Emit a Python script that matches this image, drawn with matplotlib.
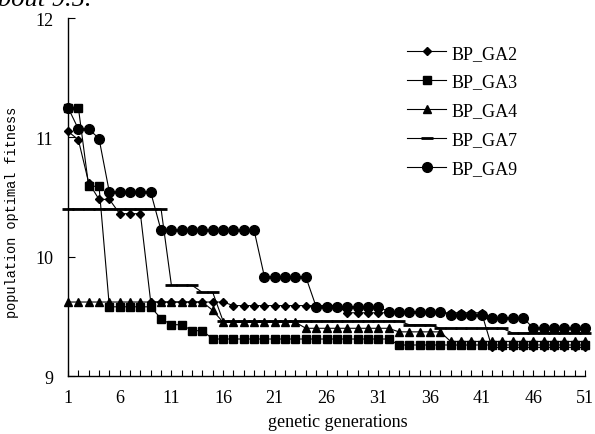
import matplotlib
matplotlib.use("Agg")
import matplotlib.pyplot as plt
from matplotlib.ticker import MultipleLocator, FixedLocator

# generations 1..51
gens = list(range(1, 52))
xtick_labels = [1, 6, 11, 16, 21, 26, 31, 36, 41, 46, 51]

ga2 = [11.05, 10.98, 10.62, 10.48, 10.48, 10.36, 10.36, 10.36, 9.62, 9.62,
       9.62, 9.62, 9.62, 9.62, 9.62, 9.62, 9.59, 9.59, 9.59, 9.59,
       9.59, 9.59, 9.59, 9.59, 9.59, 9.59, 9.59, 9.53, 9.53, 9.53,
       9.53, 9.53, 9.53, 9.53, 9.53, 9.53, 9.53, 9.53, 9.53, 9.53,
       9.53, 9.24, 9.24, 9.24, 9.24, 9.24, 9.24, 9.24, 9.24, 9.24,
       9.24]
ga3 = [11.25, 11.25, 10.59, 10.59, 9.58, 9.58, 9.58, 9.58, 9.58, 9.48,
       9.43, 9.43, 9.38, 9.38, 9.31, 9.31, 9.31, 9.31, 9.31, 9.31,
       9.31, 9.31, 9.31, 9.31, 9.31, 9.31, 9.31, 9.31, 9.31, 9.31,
       9.31, 9.31, 9.26, 9.26, 9.26, 9.26, 9.26, 9.26, 9.26, 9.26,
       9.26, 9.26, 9.26, 9.26, 9.26, 9.26, 9.26, 9.26, 9.26, 9.26,
       9.26]
ga4 = [9.62, 9.62, 9.62, 9.62, 9.62, 9.62, 9.62, 9.62, 9.62, 9.62,
       9.62, 9.62, 9.62, 9.62, 9.55, 9.45, 9.45, 9.45, 9.45, 9.45,
       9.45, 9.45, 9.45, 9.40, 9.40, 9.40, 9.40, 9.40, 9.40, 9.40,
       9.40, 9.40, 9.37, 9.37, 9.37, 9.37, 9.37, 9.29, 9.29, 9.29,
       9.29, 9.29, 9.29, 9.29, 9.29, 9.29, 9.29, 9.29, 9.29, 9.29,
       9.29]
ga7 = [10.40, 10.40, 10.40, 10.40, 10.40, 10.40, 10.40, 10.40, 10.40, 10.40,
       9.76, 9.76, 9.76, 9.70, 9.70, 9.46, 9.46, 9.46, 9.46, 9.46,
       9.46, 9.46, 9.46, 9.46, 9.46, 9.46, 9.46, 9.46, 9.46, 9.46,
       9.46, 9.46, 9.46, 9.43, 9.43, 9.43, 9.40, 9.40, 9.40, 9.40,
       9.40, 9.40, 9.40, 9.36, 9.36, 9.36, 9.36, 9.36, 9.36, 9.36,
       9.36]
ga9 = [11.25, 11.07, 11.07, 10.99, 10.54, 10.54, 10.54, 10.54, 10.54, 10.22,
       10.22, 10.22, 10.22, 10.22, 10.22, 10.22, 10.22, 10.22, 10.22, 9.83,
       9.83, 9.83, 9.83, 9.83, 9.58, 9.58, 9.58, 9.58, 9.58, 9.58,
       9.58, 9.54, 9.54, 9.54, 9.54, 9.54, 9.54, 9.51, 9.51, 9.51,
       9.51, 9.49, 9.49, 9.49, 9.49, 9.40, 9.40, 9.40, 9.40, 9.40,
       9.40]

series = [
    ("BP_GA2", ga2, dict(marker="D", markersize=4.5)),
    ("BP_GA3", ga3, dict(marker="s", markersize=6)),
    ("BP_GA4", ga4, dict(marker="^", markersize=5.5)),
    ("BP_GA7", ga7, dict(marker="_", markersize=8, markeredgewidth=2)),
    ("BP_GA9", ga9, dict(marker="o", markersize=7)),
]

serif = "Liberation Serif"

fig = plt.figure(figsize=(5.95, 4.35), dpi=100)
ax = fig.add_axes([0.1143, 0.1333, 0.8689, 0.8230])

for name, vals, style in series:
    ax.plot(gens, vals, color="black", linewidth=0.8, label=name,
            markerfacecolor="black", markeredgecolor="black",
            clip_on=False, **style)

ax.set_xlim(1, 51)
ax.set_ylim(9, 12)

ax.xaxis.set_major_locator(FixedLocator(xtick_labels))
ax.xaxis.set_minor_locator(MultipleLocator(1))
ax.yaxis.set_major_locator(MultipleLocator(1))

ax.spines["top"].set_visible(False)
ax.spines["right"].set_visible(False)
ax.spines["left"].set_linewidth(1.0)
ax.spines["bottom"].set_linewidth(1.0)

ax.tick_params(axis="x", which="both", direction="in", length=4, width=0.8,
               pad=9, labelsize=13)
ax.tick_params(axis="y", which="major", direction="in", length=5, width=0.8,
               pad=10.5, labelsize=13)
for lbl in ax.get_xticklabels() + ax.get_yticklabels():
    lbl.set_fontfamily(serif)

ax.set_xlabel("genetic generations", fontfamily=serif, fontsize=13)
ax.xaxis.set_label_coords(0.522, -0.102)
ax.set_ylabel("population optimal fitness", fontfamily="Liberation Mono",
              fontsize=9.8)
ax.yaxis.set_label_coords(-0.095, 0.46)

leg = ax.legend(loc="upper left", bbox_to_anchor=(0.6835, 0.895),
                bbox_transform=fig.transFigure, frameon=False,
                handlelength=2.2, handletextpad=0.3, labelspacing=0.66,
                borderpad=0, borderaxespad=0,
                prop={"family": serif, "size": 13})

# fragment of caption text cut off at the top edge
fig.text(-0.004, 0.986, "bout 9.5.", fontfamily=serif, fontstyle="italic",
         fontsize=19, va="baseline", ha="left")

fig.savefig("out.png", dpi=100)
